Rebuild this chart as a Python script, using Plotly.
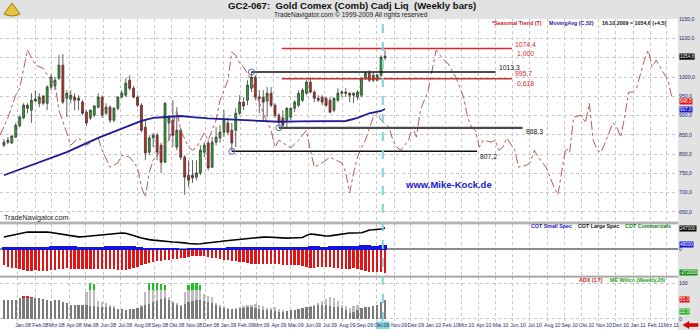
import pandas as pd
import plotly.graph_objects as go

# ---------------- data ----------------
BAR_START = "2007-12-07"  # first weekly bar
OPEN = [823,836,829,844,873,894,927,914,943,932,
        951,932,974,977,997,1031,945,943,948,940,
        935,909,894,901,922,948,906,922,888,919,
        948,953,992,971,948,927,870,805,842,849,
        823,779,881,888,818,862,792,745,745,740,
        751,805,829,766,831,842,857,881,862,862,
        906,935,940,971,1000,948,948,938,958,927,
        901,894,888,896,919,927,940,958,987,961,
        945,948,945,940,914,940,958,961,958,953,
        948,953,997,1010,1005,992,1005,1050]
HIGH = [839,844,849,881,899,932,932,958,966,958,
        953,979,1008,1000,1057,1060,966,966,958,953,
        940,914,916,927,958,953,932,927,922,950,
        966,997,1005,977,953,932,888,849,855,855,
        829,935,901,940,922,868,797,784,784,784,
        823,831,836,844,870,875,914,894,881,919,
        953,948,992,1013,1005,966,966,974,974,932,
        906,914,922,922,940,966,971,992,1000,966,
        953,953,948,948,948,971,966,971,961,961,
        966,1000,1013,1018,1013,1008,1057,1070]
LOW = [818,826,826,842,870,891,906,881,935,922,
       927,914,966,966,992,930,896,932,914,914,
       901,873,888,896,919,894,901,881,883,914,
       945,948,966,945,922,857,784,797,818,784,
       751,777,836,818,810,784,694,714,725,732,
       745,792,758,764,823,829,844,849,808,818,
       901,914,927,961,940,906,888,896,922,894,
       868,870,870,888,909,922,935,953,958,935,
       935,927,922,906,909,935,948,948,935,932,
       940,948,992,987,987,990,1000,1044]
CLOSE = [831,831,847,875,896,927,919,940,938,948,
         932,974,1000,992,1031,935,958,953,940,945,
         906,881,914,925,948,901,922,888,919,948,
         958,984,971,948,927,862,803,842,849,805,
         779,932,894,849,862,792,740,732,738,751,
         810,823,764,831,844,857,888,857,829,906,
         935,925,979,1000,948,945,935,958,927,901,
         883,875,919,919,935,958,966,987,961,945,
         940,935,927,909,945,958,961,958,953,958,
         961,997,1010,992,992,1005,1052,1054.6]

# 52-week moving average (week index from BAR_START, value)
MA_WEEK = [0, 7, 16, 24, 31, 35, 38, 42, 45, 48, 52, 60, 70, 75, 87, 90, 93, 96, 97]
MA_VALUE = [745, 771, 805, 842, 870, 886, 894, 897, 899, 896, 893, 889, 884, 885, 886, 894, 906, 912, 917]

# Seasonal trend (week index from BAR_START, value)
SEASONAL_WEEK = [-1, 1, 3, 4, 6, 7, 8, 10, 12, 13,
                 14, 16, 17, 19, 21, 24, 25, 27, 29, 30,
                 32, 33, 34, 35, 36, 37, 38, 40, 42, 44,
                 45, 47, 48, 49, 51, 52, 54, 55, 57, 58,
                 59, 60, 61, 63, 66, 68, 69, 70, 73, 75,
                 77, 78, 79, 81, 83, 86, 87, 88, 89, 90,
                 91, 92, 94, 95, 96, 98, 99, 100, 101, 103,
                 104, 105, 106, 108, 109, 110, 112, 113, 115, 117,
                 118, 119, 120, 121, 122, 124, 125, 126, 127, 128,
                 130, 131, 133, 134, 135, 136, 138, 139, 140, 141,
                 142, 143, 144, 145, 147, 148, 149, 150, 151, 152,
                 153, 155, 156, 157, 158, 159, 160, 161, 163, 164,
                 165, 166, 167, 168, 169, 170]
SEASONAL_VALUE = [849, 894, 953, 971, 1070, 1052, 1031, 1023, 992, 984,
                  914, 855, 823, 842, 823, 842, 810, 766, 777, 797,
                  792, 779, 764, 714, 688, 753, 784, 810, 836, 914,
                  862, 818, 810, 818, 855, 836, 888, 940, 992, 1065,
                  1057, 1036, 1026, 992, 906, 862, 818, 836, 816, 836,
                  862, 810, 766, 777, 792, 777, 753, 699, 751, 792,
                  818, 836, 896, 906, 888, 870, 836, 818, 810, 836,
                  870, 844, 914, 966, 1018, 1070, 1044, 1036, 1000, 948,
                  896, 870, 862, 818, 836, 831, 836, 810, 818, 842,
                  810, 766, 771, 779, 810, 792, 766, 740, 714, 694,
                  751, 816, 803, 896, 901, 881, 932, 836, 810, 805,
                  829, 881, 870, 844, 896, 961, 961, 971, 1044, 1070,
                  1026, 1044, 1026, 1010, 992, 948]

# Support / resistance levels
LEVEL_VALUE = [1074.4, 1013.3, 995.7, 868.3, 807.2]
LEVEL_START = ["2009-04-15", "2009-02-20", "2009-04-15", "2009-04-10", "2009-01-16"]
LEVEL_END = ["2010-05-30", "2010-05-01", "2010-05-30", "2010-06-18", "2010-03-29"]
LEVEL_LABEL = ["1074,4", "1013,3", "995,7", "868,3", "807,2"]
RATIO_LABEL = ["1,000", "", "0,618", "", ""]
PIVOT_DATE = ["2009-02-20", "2009-04-10", "2009-01-16"]
PIVOT_VALUE = [1013.3, 868.3, 807.2]
CURSOR_DATE = "2009-10-12"

# COT (thousands of contracts)
LARGE_SPEC_K = [141,150,160,170,180,192,200,198,200,196,
                200,198,194,186,178,170,165,158,150,143,
                145,150,156,160,163,168,172,176,180,185,
                188,186,175,160,145,130,118,110,104,98,
                92,86,84,82,80,78,72,65,60,58,
                62,66,70,74,80,88,95,100,106,112,
                115,118,124,128,132,135,140,141,138,133,
                129,128,128,130,129,128,135,160,176,172,
                165,158,153,155,162,170,176,180,188,188,
                190,192,205,224,226,230,235,247]
SMALL_SPEC_K = [30,30,32,32,33,35,35,35,33,32,
                32,35,40,45,47,47,45,42,38,35,
                33,32,32,33,33,35,38,40,42,45,
                47,47,45,40,33,28,22,18,15,13,
                12,10,8,8,6,5,5,6,6,8,
                10,12,14,16,18,20,22,24,25,26,
                28,28,30,30,30,30,28,28,27,26,
                25,25,26,27,28,30,32,35,38,38,
                36,35,35,36,38,40,42,44,45,46,
                47,48,48,48,47,47,48,48]
COMMERCIALS_K = [-188,-200,-212,-220,-230,-240,-247,-247,-245,-247,
                 -250,-247,-245,-238,-230,-224,-222,-225,-228,-226,
                 -224,-226,-230,-232,-230,-228,-230,-232,-235,-238,
                 -240,-238,-232,-222,-205,-188,-170,-160,-150,-140,
                 -132,-125,-120,-115,-108,-100,-95,-88,-80,-72,
                 -75,-82,-90,-96,-102,-110,-118,-125,-130,-138,
                 -145,-152,-160,-165,-168,-172,-175,-172,-168,-170,
                 -175,-180,-182,-185,-186,-188,-195,-205,-212,-212,
                 -210,-205,-206,-210,-215,-220,-224,-226,-224,-218,
                 -228,-240,-258,-265,-268,-266,-270,-272]

# ADX and ME Willco
ADX = [53,53,52,54,58,62,65,61,57,58,
       55,52,50,52,53,47,44,40,39,38,
       39,38,36,35,33,32,34,33,30,28,
       27,26,27,28,30,33,38,42,46,50,
       55,58,52,45,40,37,42,46,50,53,
       52,50,47,45,40,33,30,28,27,28,
       30,30,32,33,30,28,26,25,24,22,
       20,20,22,24,26,28,30,32,34,36,
       38,39,38,36,34,32,30,26,17,20,
       25,30,32,33,35,40,47,53]
WILLCO = [35,35,30,30,35,40,40,38,35,35,
          30,30,28,30,32,30,28,30,32,35,
          40,75,100,97,50,48,45,40,35,25,
          20,18,20,25,30,40,75,100,100,100,
          98,95,60,50,45,40,75,95,100,100,
          95,70,65,60,45,40,35,30,28,30,
          32,35,38,40,42,38,35,30,30,32,
          28,25,22,20,25,28,30,33,36,40,
          45,50,55,62,58,50,40,35,30,35,
          38,30,28,25,24,22,22,22]

PRICE_TICKS = [650, 700, 750, 800, 850, 900, 950, 1000, 1050, 1100, 1150]
TICK_LABELS = ["Jan.08", "Feb.08", "Mrz.08", "Apr.08", "Mai.08", "Jun.08", "Jul.08", "Aug.08",
               "Sep.08", "Okt.08", "Nov.08", "Dez.08", "Jan.09", "Feb.09", "Mrz.09", "Apr.09",
               "Mai.09", "Jun.09", "Jul.09", "Aug.09", "Sep.09", "Okt.09", "Nov.09", "Dez.09",
               "Jan.10", "Feb.10", "Mrz.10", "Apr.10", "Mai.10", "Jun.10", "Jul.10", "Aug.10",
               "Sep.10", "Okt.10", "Nov.10", "Dez.10", "Jan.11", "Feb.11", "Mrz.11"]

# ---------------- derived ----------------
start = pd.Timestamp(BAR_START)
dates = pd.date_range(start, periods=len(CLOSE), freq="7D")
ma_dates = [start + pd.Timedelta(weeks=w) for w in MA_WEEK]
seas_dates = [start + pd.Timedelta(weeks=w) for w in SEASONAL_WEEK]
month_starts = pd.date_range("2008-01-01", periods=len(TICK_LABELS), freq="MS")
tick_dates = [d + pd.Timedelta(days=9) for d in month_starts]
grid_dates = list(pd.date_range("2007-12-01", "2011-03-01", freq="MS"))

W_PLOT, TOP, BOT = 678, 19, 321
HP = BOT - TOP


def fx(p):
    return p / W_PLOT


def fy(p):
    return (BOT - p) / HP


DAY = 86400000
FONT = "Liberation Sans"

fig = go.Figure()

# seasonal
fig.add_trace(go.Scatter(x=seas_dates, y=SEASONAL_VALUE, mode="lines",
                         line=dict(color="#b85a56", width=1, dash="dashdot"),
                         hoverinfo="skip", xaxis="x", yaxis="y"))
# moving average
fig.add_trace(go.Scatter(x=ma_dates, y=MA_VALUE, mode="lines",
                         line=dict(color="#1c1c98", width=1.8),
                         hoverinfo="skip", xaxis="x", yaxis="y"))
# levels
lvl_colors = ["#d42a2a", "#111111", "#c83232", "#4a4a4a", "#111111"]
lvl_widths = [1.4, 1.4, 1.4, 2.2, 1.4]
for v, s, e, c, w in zip(LEVEL_VALUE, LEVEL_START, LEVEL_END, lvl_colors, lvl_widths):
    fig.add_trace(go.Scatter(x=[s, e], y=[v, v], mode="lines", line=dict(color=c, width=w),
                             hoverinfo="skip", xaxis="x", yaxis="y"))
# candles
fig.add_trace(go.Candlestick(x=dates, open=OPEN, high=HIGH, low=LOW, close=CLOSE,
                             increasing=dict(fillcolor="#22b022", line=dict(color="#3a3a3a", width=0.8)),
                             decreasing=dict(fillcolor="#e01c1c", line=dict(color="#3a3a3a", width=0.8)),
                             whiskerwidth=0, hoverinfo="skip", xaxis="x", yaxis="y"))
# pivots
fig.add_trace(go.Scatter(x=PIVOT_DATE, y=PIVOT_VALUE, mode="markers",
                         marker=dict(symbol="circle-open", size=6, color="#5a6aa8", line=dict(width=1)),
                         hoverinfo="skip", xaxis="x", yaxis="y"))

# COT
fig.add_trace(go.Bar(x=dates, y=[v * 1000 for v in SMALL_SPEC_K], width=7 * DAY,
                     marker=dict(color="#1414e0", line=dict(width=0)), xaxis="x", yaxis="y2", hoverinfo="skip"))
fig.add_trace(go.Bar(x=dates, y=[v * 1000 for v in COMMERCIALS_K], width=4.2 * DAY,
                     marker=dict(color="#e01414", line=dict(width=0)), xaxis="x", yaxis="y2", hoverinfo="skip"))
fig.add_trace(go.Scatter(x=dates, y=[v * 1000 for v in LARGE_SPEC_K], mode="lines",
                         line=dict(color="#000000", width=1.6), xaxis="x", yaxis="y2", hoverinfo="skip"))

# ADX / Willco
W_CAP, A_CAP = 80, 60
fig.add_trace(go.Bar(x=dates, y=[min(v, W_CAP) for v in WILLCO], width=4 * DAY,
                     marker=dict(color="#bdbdbd", line=dict(width=0)), xaxis="x", yaxis="y3", hoverinfo="skip"))
fig.add_trace(go.Bar(x=dates, y=[max(v - W_CAP, 0) for v in WILLCO], base=W_CAP, width=4 * DAY,
                     marker=dict(color="#22c022", line=dict(width=0)), xaxis="x", yaxis="y3", hoverinfo="skip"))
fig.add_trace(go.Bar(x=dates, y=[min(v, A_CAP) for v in ADX], width=4 * DAY,
                     marker=dict(color="#7a7a7a", line=dict(width=0)), xaxis="x", yaxis="y3", hoverinfo="skip"))
fig.add_trace(go.Bar(x=dates, y=[max(v - A_CAP, 0) for v in ADX], base=A_CAP, width=4 * DAY,
                     marker=dict(color="#e02020", line=dict(width=0)), xaxis="x", yaxis="y3", hoverinfo="skip"))

axis_font = dict(family=FONT, size=5.2, color="#1f2a6b")

fig.update_layout(
    width=700, height=330, margin=dict(l=0, r=22, t=TOP, b=330 - BOT),
    paper_bgcolor="#e2e2e2", plot_bgcolor="#ffffff", showlegend=False,
    separators=",.", barmode="overlay", bargap=0,
    font=dict(family=FONT),
    xaxis=dict(type="date", range=["2007-11-30", "2011-03-22"], anchor="y3",
               tickmode="array", tickvals=tick_dates, ticktext=TICK_LABELS, tickangle=0,
               tickfont=axis_font, ticks="", showgrid=False, zeroline=False, showline=False,
               rangeslider=dict(visible=False), fixedrange=True, ticklabelstandoff=0,
               minor=dict(tickmode="array", tickvals=grid_dates, showgrid=True,
                          gridcolor="#c6c6c6", griddash="dot", gridwidth=1, ticks="")),
    yaxis=dict(domain=[fy(222), 1], anchor="x", side="right", range=[623.5, 1151],
               tickmode="array", tickvals=PRICE_TICKS, tickformat=".1f", tickfont=axis_font,
               ticks="", showgrid=True, gridcolor="#c6c6c6", griddash="dot", zeroline=False),
    yaxis2=dict(domain=[fy(276), fy(223.5)], anchor="x", side="right", range=[-317600, 300000],
                tickmode="array", tickvals=[0], ticktext=["0"], tickfont=axis_font, ticks="",
                showgrid=False, zeroline=True, zerolinecolor="#8c8c8c", zerolinewidth=1.5),
    yaxis3=dict(domain=[0, fy(277)], anchor="x", side="right", range=[-5.6, 116.7],
                tickmode="array", tickvals=[0, 100], ticktext=["0", "100"], tickfont=axis_font,
                ticks="", showgrid=True, gridcolor="#c6c6c6", griddash="dot", zeroline=False),
)

shapes = []
# bottom label row background
shapes.append(dict(type="rect", xref="paper", yref="paper", x0=0, x1=1, y0=fy(330), y1=fy(321),
                   fillcolor="#ffffff", line=dict(width=0), layer="below"))
# highlighted cursor date cell on the time axis (behind the tick label)
shapes.append(dict(type="rect", xref="x", yref="paper",
                   x0=pd.Timestamp(CURSOR_DATE) - pd.Timedelta(days=12),
                   x1=pd.Timestamp(CURSOR_DATE) + pd.Timedelta(days=12),
                   y0=fy(329), y1=fy(321.5), fillcolor="#8ad8dc", line=dict(width=0), layer="below"))
# panel separators
for yy in (222.2, 223.8, 276.2, 277.0):
    shapes.append(dict(type="line", xref="paper", yref="paper", x0=0, x1=1, y0=fy(yy), y1=fy(yy),
                       line=dict(color="#9a9a9a", width=1)))
# cursor line
shapes.append(dict(type="line", xref="x", yref="paper", x0=CURSOR_DATE, x1=CURSOR_DATE, y0=0, y1=1,
                   line=dict(color="#7fd0d0", width=2, dash="dash")))
# red arrow bottom right
arrow = (f"M {fx(683)},{fy(325)} L {fx(689)},{fy(321.5)} L {fx(689)},{fy(323.5)} "
         f"L {fx(698)},{fy(323.5)} L {fx(698)},{fy(326.5)} L {fx(689)},{fy(326.5)} "
         f"L {fx(689)},{fy(328.5)} Z")
shapes.append(dict(type="path", xref="paper", yref="paper", path=arrow, fillcolor="#e00000",
                   line=dict(color="#a00000", width=0.5)))
# logo (simple sextant-like glyph)
logo = (f"M {fx(4)},{fy(14)} L {fx(12)},{fy(3)} L {fx(20)},{fy(14)} "
        f"Q {fx(12)},{fy(18)} {fx(4)},{fy(14)} Z")
shapes.append(dict(type="path", xref="paper", yref="paper", path=logo, fillcolor="#e8c23a",
                   line=dict(color="#9c7a10", width=1)))
fig.update_layout(shapes=shapes)

ann = []


def txt(x, y, s, size, color, bold=False, xanchor="left", xref="paper", yref="paper", **kw):
    ann.append(dict(x=x, y=y, xref=xref, yref=yref, text=f"<b>{s}</b>" if bold else s,
                    showarrow=False, xanchor=xanchor, yanchor="middle",
                    font=dict(family=FONT, size=size, color=color), **kw))


txt(fx(352), fy(6), "GC2-067:\u00a0 Gold Comex (Comb) Cadj Liq\u00a0 (Weekly bars)", 9.6, "#111111", True, "center")
txt(fx(351), fy(15.3), "TradeNavigator.com © 1999-2009 All rights reserved", 6.6, "#222222", False, "center")
txt(fx(490), fy(23), "*Seasonal Trend (T)", 5.3, "#c02020", True)
txt(fx(547), fy(23), "MovingAvg (C,52)", 5.3, "#1c1c98", True)
txt(fx(600), fy(23), "16.10.2009 = 1054,6 (+4,5)", 5.3, "#111111", True)
txt(fx(2), fy(218), "TradeNavigator.com", 7.2, "#222222")
txt(fx(449), fy(184), "www.Mike-Kock.de", 9.5, "#2020d0", True, "center")
txt(fx(529), fy(225.5), "COT Small Spec", 5.3, "#1c1cc0", True)
txt(fx(576), fy(225.5), "COT Large Spec", 5.3, "#111111", True)
txt(fx(623), fy(225.5), "COT Commercials", 5.3, "#108010", True)
txt(fx(577), fy(280), "ADX (1,7)", 5.3, "#d02020", True)
txt(fx(608), fy(280), "ME Willco (Weekly,26)", 5.3, "#20a020", True)

# level labels
lvl_txt_colors = ["#d42a2a", "#111111", "#d42a2a", "#111111", "#111111"]
lvl_shift = [4, 4, 5, -4, -5]
for v, e, lab, rat, c, sh in zip(LEVEL_VALUE, LEVEL_END, LEVEL_LABEL, RATIO_LABEL, lvl_txt_colors, lvl_shift):
    ann.append(dict(x=e, y=v, xref="x", yref="y", text=lab, showarrow=False, xanchor="left",
                    yanchor="middle", yshift=sh, xshift=1,
                    font=dict(family=FONT, size=6.8, color=c)))
    if rat:
        ann.append(dict(x=e, y=v, xref="x", yref="y", text=rat, showarrow=False, xanchor="left",
                        yanchor="middle", yshift=-5 if v > 1000 else -4.5, xshift=3,
                        font=dict(family=FONT, size=6.8, color=c)))


def fmt(v, dec=1):
    return f"{v:.{dec}f}".replace(".", ",")


def box(yref, y, s, bg, yshift=0):
    ann.append(dict(x=1.002, y=y, xref="paper", yref=yref, text=s, showarrow=False, xanchor="left",
                    yanchor="middle", bgcolor=bg, borderpad=0, yshift=yshift,
                    font=dict(family=FONT, size=4.6, color="#ffffff")))


box("y", CLOSE[-1], fmt(CLOSE[-1]), "#000000")
box("y", SEASONAL_VALUE[-1], fmt(SEASONAL_VALUE[-1]), "#e01010", yshift=-4)
box("y", MA_VALUE[-1], fmt(MA_VALUE[-1]), "#1818c8")
box("y2", LARGE_SPEC_K[-1] * 1000, f"{LARGE_SPEC_K[-1] * 1000}", "#000000")
box("y2", SMALL_SPEC_K[-1] * 1000, f"{SMALL_SPEC_K[-1] * 1000}", "#1818c8")
box("y2", COMMERCIALS_K[-1] * 1000, f"{COMMERCIALS_K[-1] * 1000}", "#149014")
box("y3", ADX[-1], fmt(ADX[-1]), "#e01010")
box("y3", WILLCO[-1], fmt(WILLCO[-1]), "#18b018")

fig.update_layout(annotations=ann)
fig.write_html("out.html")
